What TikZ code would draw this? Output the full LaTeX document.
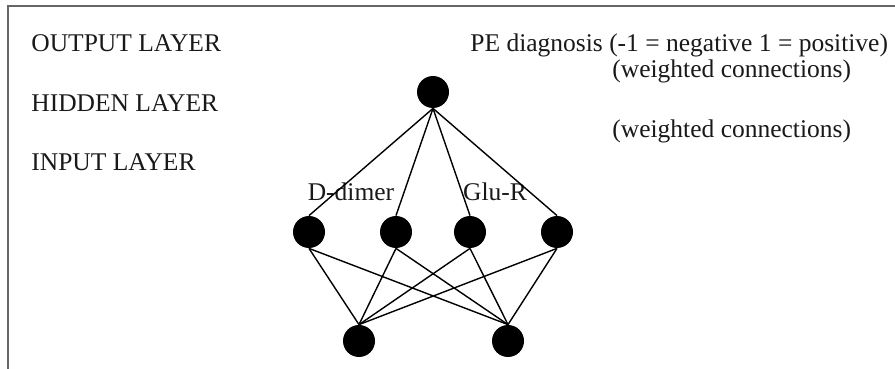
\documentclass[tikz,border=0pt]{standalone}
\usepackage{fontspec}
\setmainfont{Liberation Serif}
\usetikzlibrary{positioning}

\begin{document}
\begin{tikzpicture}[
  x=0.5pt, y=-0.5pt,
  neuron/.style={circle, fill=black, inner sep=0pt, minimum size=16pt},
  lbl/.style={anchor=base west, inner sep=0pt, text=black!90, font=\fontsize{12.75}{15}\selectfont},
  link/.style={line width=0.7pt}
]
  \useasboundingbox (0,0) rectangle (895,369);

  % Frame
  \draw[black!60, line width=0.8pt] (8,369) -- (8,6) -- (895,6);

  % Labels
  \node[lbl] (outlbl) at (31,52) {OUTPUT LAYER};
  \node[lbl] (hidlbl) at (31,112) {HIDDEN LAYER};
  \node[lbl] (inlbl) at (31,170) {INPUT LAYER};
  \node[lbl] (diag) at (470,52) {PE diagnosis (-1 = negative 1 = positive)};
  \node[lbl] (wc1) at (612,78) {(weighted connections)};
  \node[lbl] (wc2) at (612,138) {(weighted connections)};
  \node[lbl, anchor=base] (ddimer) at (351,200) {D-dimer};
  \node[lbl, anchor=base] (glur) at (495,200) {Glu-R};

  % Nodes
  \node[neuron] (o) at (433,92) {};
  \node[neuron] (a1) at (309,232) {};
  \node[neuron] (a2) at (396,232) {};
  \node[neuron] (a3) at (470,232) {};
  \node[neuron] (a4) at (557,232) {};
  \node[neuron] (b1) at (359,341) {};
  \node[neuron] (b2) at (508,341) {};

  % Connections
  \draw[link] (o.south) -- (a1.north);
  \draw[link] (o.south) -- (a2.north);
  \draw[link] (o.south) -- (a3.north);
  \draw[link] (o.south) -- (a4.north);
  \draw[link] (a1.south) -- (b1.north);
  \draw[link] (a1.south) -- (b2.north);
  \draw[link] (a2.south) -- (b1.north);
  \draw[link] (a2.south) -- (b2.north);
  \draw[link] (a3.south) -- (b1.north);
  \draw[link] (a3.south) -- (b2.north);
  \draw[link] (a4.south) -- (b1.north);
  \draw[link] (a4.south) -- (b2.north);
\end{tikzpicture}
\end{document}
